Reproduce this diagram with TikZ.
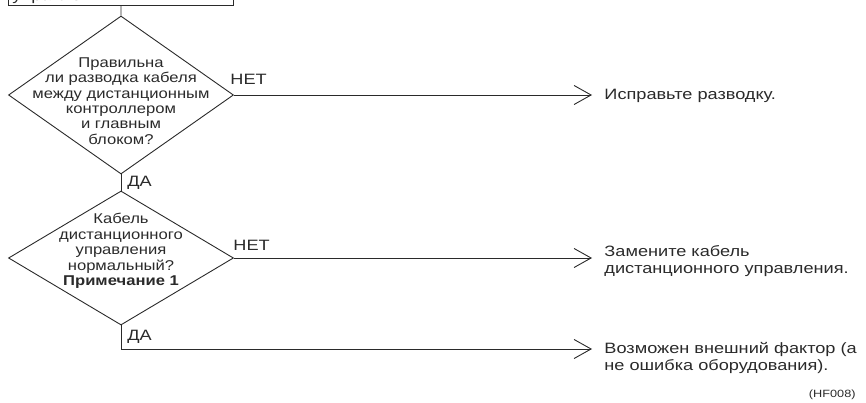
\documentclass[tikz,border=0pt]{standalone}
\usepackage{fontspec}
\setmainfont{Liberation Sans}
\newfontfamily\widefont[FakeStretch=1.21]{Liberation Sans}
\newfontfamily\diafont[FakeStretch=1.17]{Liberation Sans}
\usetikzlibrary{arrows.meta,shapes.geometric}
\definecolor{ink}{HTML}{2A2A2A}
\begin{document}
\begin{tikzpicture}[x=1pt,y=-1pt, line width=0.9pt, draw=ink, text=ink,
  dia/.style={diamond, draw=ink, inner sep=0pt, minimum width=225pt, minimum height=158pt},
  txt/.style={font=\widefont\fontsize{15}{16.3}\selectfont, inner sep=0pt},
  lbl/.style={txt, anchor=base west},
  ctext/.style={font=\diafont\fontsize{14.2}{15.4}\selectfont, inner sep=0pt, align=center, anchor=north},
  rtext/.style={txt, align=left, anchor=base west},
  arr/.style={-{Straight Barb[length=17pt,width=19pt,line width=0.9pt]}}]
\useasboundingbox (0,0) rectangle (866,403);
\clip (0,0) rectangle (866,403);
% top box (cut off)
\node[draw=ink, minimum width=225pt, minimum height=40pt, inner sep=0pt, anchor=south west] (box) at (8,6) {};
\node[lbl] (boxtxt) at (12,1) {управления};
% diamond 1
\node[dia] (d1) at (121,95) {};
\node[ctext] (d1t) at (121,57) {Правильна\\ли разводка кабеля\\между дистанционным\\контроллером\\и главным\\блоком?};
\draw (box.south) -- (d1.north);
\node[lbl] (net1) at (230,85) {НЕТ};
\coordinate (a1) at (592,95);
\draw[arr] (d1.east) -- (a1);
\node[rtext] (r1) at (604,100) {Исправьте разводку.};
\node[lbl] (da1) at (127,187) {ДА};
% diamond 2
\node[dia, minimum height=134pt] (d2) at (121,258) {};
\draw (d1.south) -- (d2.north);
\node[ctext] (d2t) at (121,213) {Кабель\\дистанционного\\управления\\нормальный?\\\textbf{Примечание 1}};
\node[lbl] (net2) at (233,250) {НЕТ};
\coordinate (a2) at (592,258);
\draw[arr] (d2.east) -- (a2);
\node[rtext] (r2) at (604,273) {Замените кабель\\дистанционного управления.};
\node[lbl] (da2) at (127,340) {ДА};
\coordinate (c3) at (121,349);
\coordinate (a3) at (592,349);
\draw[arr] (d2.south) -- (c3) -- (a3);
\node[rtext] (r3) at (604,370) {Возможен внешний фактор (а\\не ошибка оборудования).};
\node[font=\widefont\fontsize{10.5}{12}\selectfont, inner sep=0pt, anchor=base east] (code) at (856,397) {(HF008)};
\end{tikzpicture}
\end{document}
